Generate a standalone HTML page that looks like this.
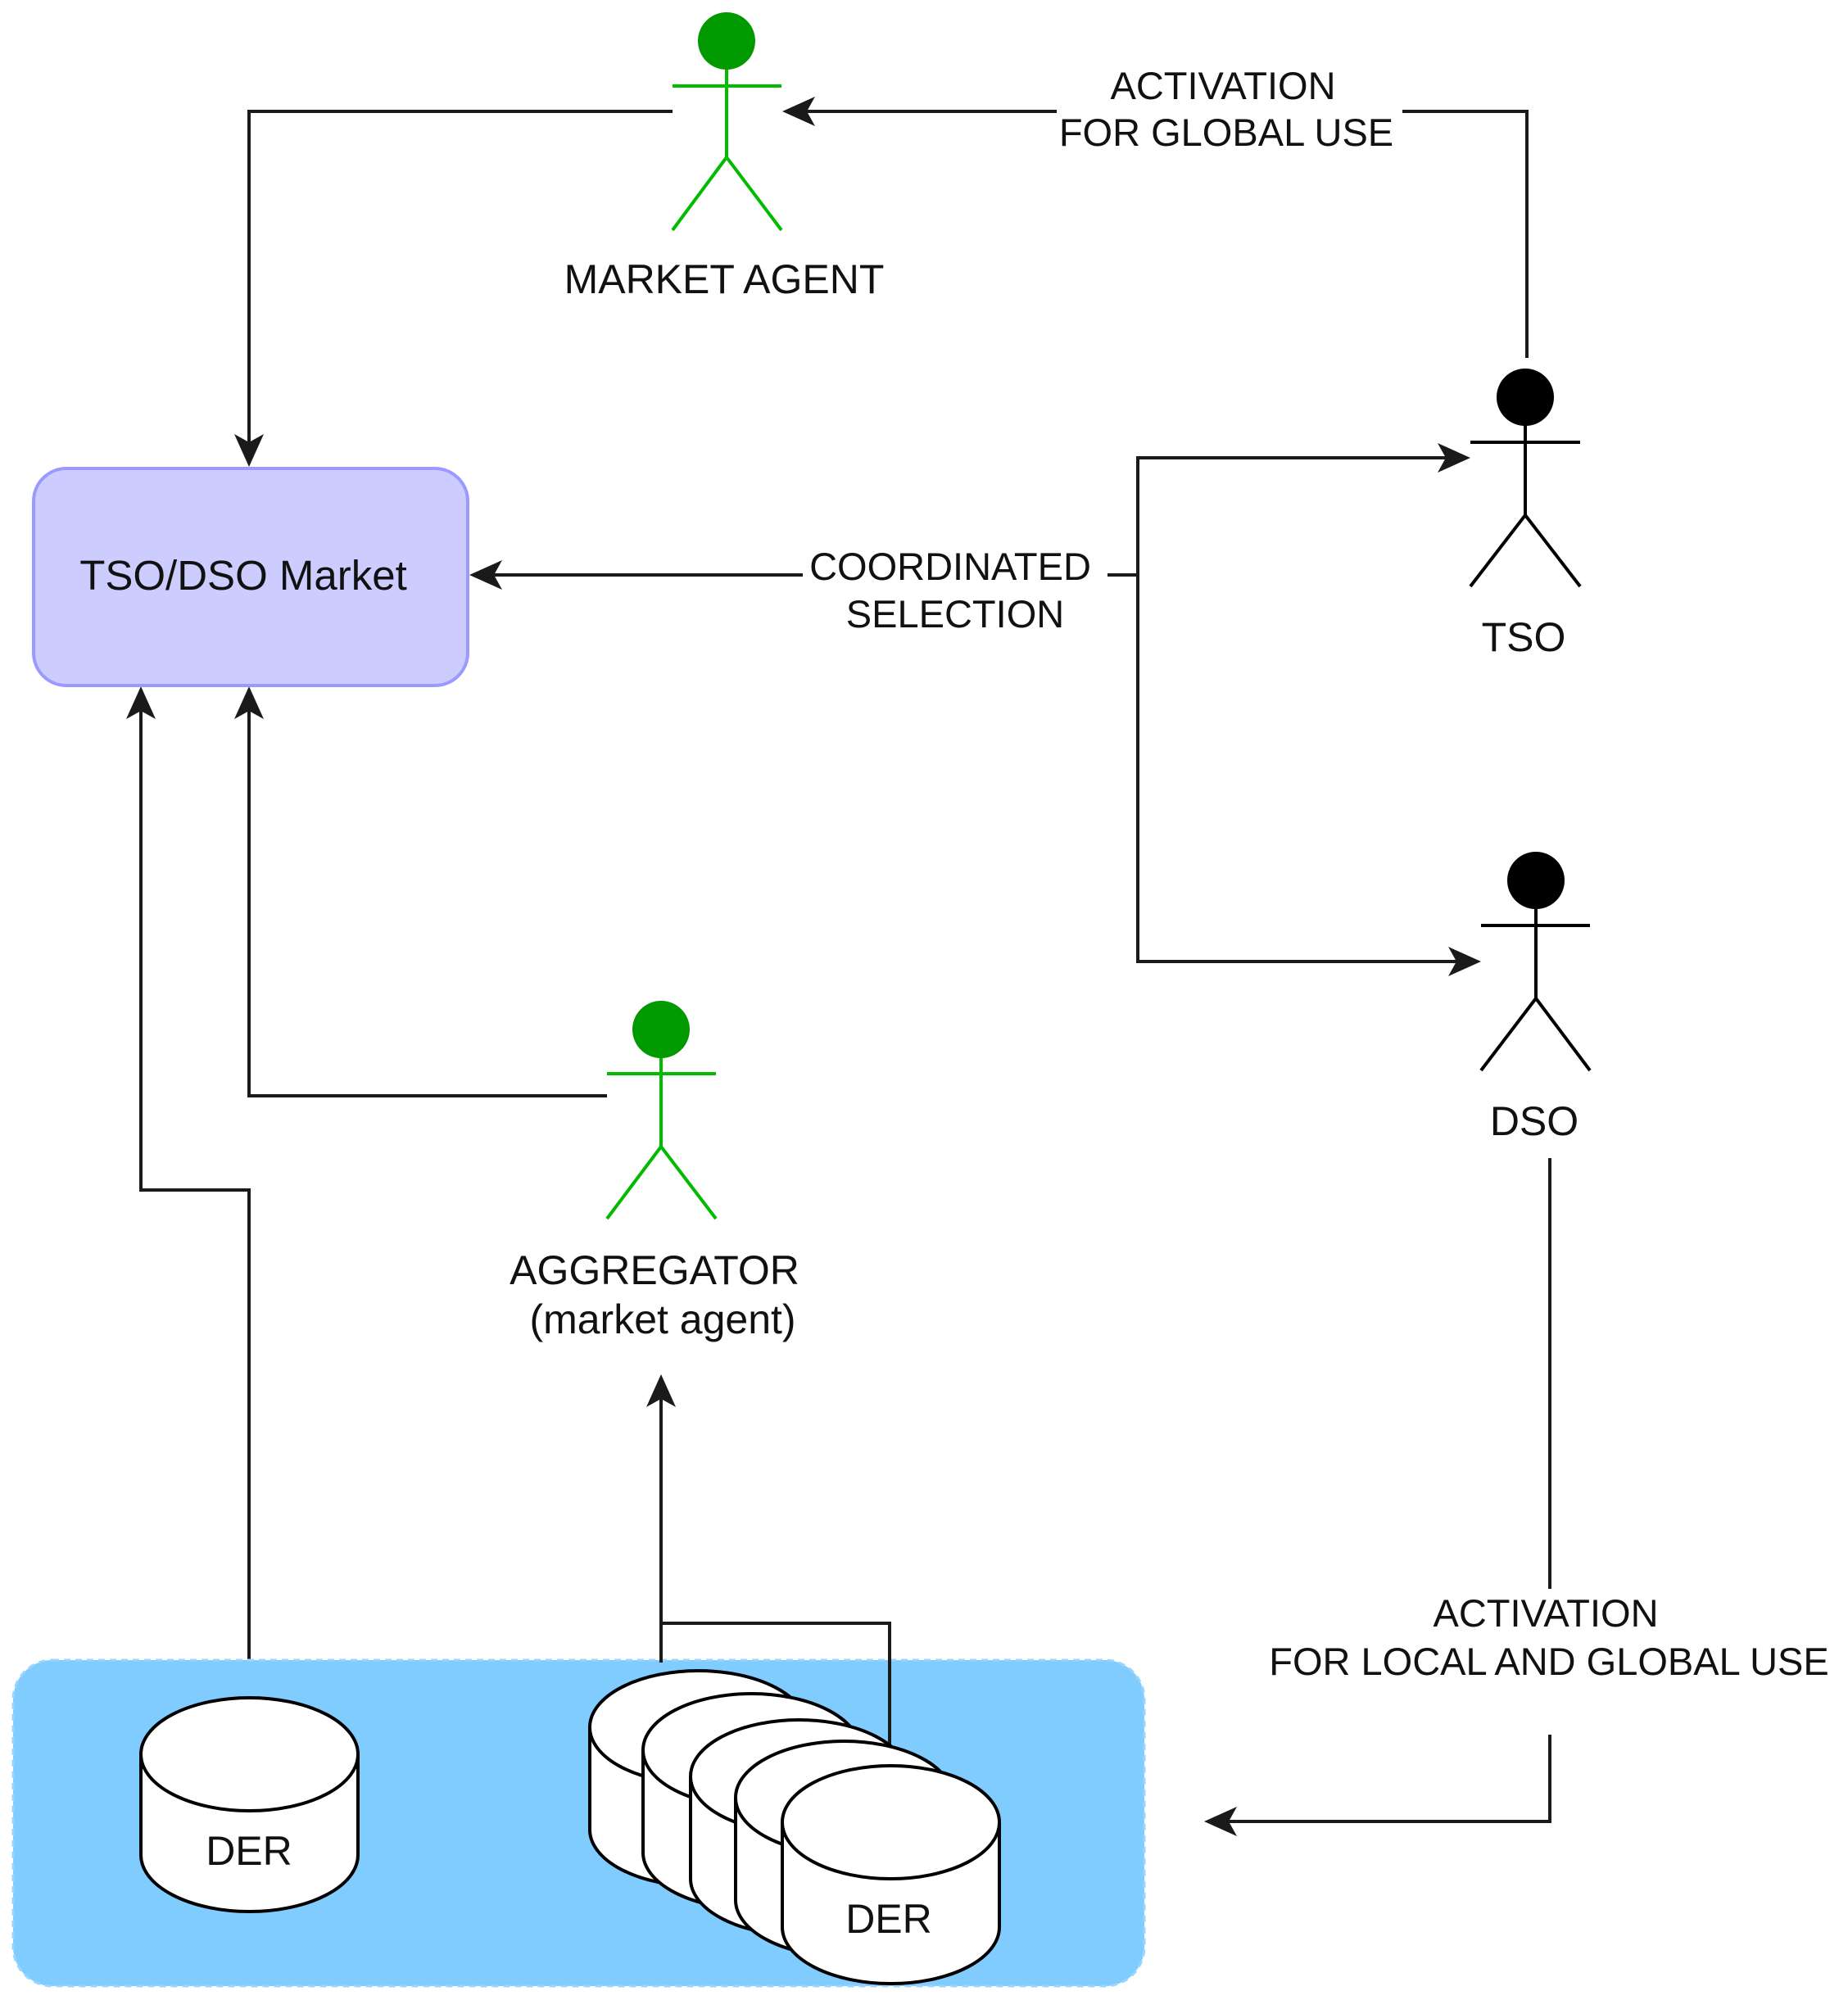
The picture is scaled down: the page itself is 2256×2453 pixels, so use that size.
<!DOCTYPE html>
<html><head><meta charset="utf-8"><style>
html,body{margin:0;padding:0;background:#fff;}
svg{display:block;}
text{font-family:"Liberation Sans",Arial,sans-serif;fill:#111;}
</style></head><body>
<svg width="2256" height="2453" viewBox="0 0 2256 2453" xmlns="http://www.w3.org/2000/svg">
<g fill="none" stroke="#1a1a1a" stroke-width="4">
<polyline points="821,136 304,136 304,560"/>
<polyline points="1864,437 1864,136 1712,136"/>
<line x1="1290" y1="136" x2="968" y2="136"/>
<line x1="980" y1="702" x2="585" y2="702"/>
<line x1="1352" y1="702" x2="1389" y2="702"/>
<polyline points="1785,559 1389,559 1389,1174 1798,1174"/>
<polyline points="741,1338 304,1338 304,850"/>
<polyline points="304,2073 304,1453 172,1453 172,850"/>
<line x1="1892" y1="1414" x2="1892" y2="1940"/>
<polyline points="1892,2118 1892,2224 1482,2224"/>
</g>
<g fill="#1a1a1a">
<path d="M304,570 l-18,-40 l18,10 l18,-10 z"/>
<path d="M955,136 l40,-18 l-10,18 l10,18 z"/>
<path d="M573,702 l40,-18 l-10,18 l10,18 z"/>
<path d="M1795,559 l-40,-18 l10,18 l-10,18 z"/>
<path d="M1808,1174 l-40,-18 l10,18 l-10,18 z"/>
<path d="M304,838 l-18,40 l18,-10 l18,10 z"/>
<path d="M172,838 l-18,40 l18,-10 l18,10 z"/>
<path d="M807,1678 l-18,40 l18,-10 l18,10 z"/>
<path d="M1470,2224 l40,-18 l-10,18 l10,18 z"/>
</g>
<rect x="41" y="572" width="530" height="265" rx="40" fill="#ccccff" stroke="#9999ff" stroke-width="4"/>
<text x="297" y="720" font-size="51" text-anchor="middle">TSO/DSO Market</text>
<text font-size="47" text-anchor="middle"><tspan x="1493" y="121">ACTIVATION</tspan><tspan x="1497" y="178">FOR GLOBAL USE</tspan></text>
<text font-size="47" text-anchor="middle"><tspan x="1160" y="708">COORDINATED</tspan><tspan x="1166" y="766">SELECTION</tspan></text>
<text font-size="47" text-anchor="middle"><tspan x="1887" y="1986">ACTIVATION</tspan><tspan x="1891" y="2045">FOR LOCAL AND GLOBAL USE</tspan></text>
<g stroke="#00bb00" stroke-width="4" fill="none">
<line x1="821" y1="105" x2="954" y2="105"/><line x1="887" y1="84" x2="887" y2="192"/><polyline points="821,281 887,192 954,281"/>
<line x1="741" y1="1311" x2="874" y2="1311"/><line x1="807" y1="1290" x2="807" y2="1400"/><polyline points="741,1488 807,1400 874,1488"/>
</g>
<circle cx="887" cy="50" r="35" fill="#009900"/>
<circle cx="807" cy="1257" r="35" fill="#009900"/>
<g stroke="#000" stroke-width="4" fill="none">
<line x1="1795" y1="540" x2="1929" y2="540"/><line x1="1862" y1="518" x2="1862" y2="629"/><polyline points="1795,716 1862,629 1929,716"/>
<line x1="1808" y1="1130" x2="1941" y2="1130"/><line x1="1875" y1="1108" x2="1875" y2="1219"/><polyline points="1808,1307 1875,1219 1941,1307"/>
</g>
<circle cx="1862" cy="485" r="35" fill="#000"/>
<circle cx="1875" cy="1075" r="35" fill="#000"/>
<text x="884" y="358" font-size="50" text-anchor="middle">MARKET AGENT</text>
<text x="1860" y="795" font-size="50" text-anchor="middle">TSO</text>
<text x="1873" y="1386" font-size="50" text-anchor="middle">DSO</text>
<text x="799" y="1568" font-size="50" text-anchor="middle">AGGREGATOR</text>
<text x="809" y="1628" font-size="50" text-anchor="middle">(market agent)</text>
<rect x="16" y="2027" width="1381" height="398" rx="48" fill="#80ccff" stroke="#99d6ff" stroke-width="3" stroke-dasharray="8 6"/>
<g fill="none" stroke="#1a1a1a" stroke-width="4">
<polyline points="807,2030 807,1690"/>
<polyline points="807,2030 807,1982 1086,1982 1086,2150"/>
</g>
<g stroke="#000" stroke-width="4" fill="#fff">
<path d="M172,2142 a132.5,69 0 0 1 265,0 v123 a132.5,69 0 0 1 -265,0 z"/>
<path d="M172,2142 a132.5,69 0 0 0 265,0" fill="none"/>
</g>
<text x="304" y="2277" font-size="50" text-anchor="middle">DER</text>
<g stroke="#000" stroke-width="4" fill="#fff">
<path d="M720,2109 a132.5,69 0 0 1 265,0 v125 a132.5,69 0 0 1 -265,0 z"/><path d="M720,2109 a132.5,69 0 0 0 265,0" fill="none"/>
<path d="M785,2137 a132.5,69 0 0 1 265,0 v125 a132.5,69 0 0 1 -265,0 z"/><path d="M785,2137 a132.5,69 0 0 0 265,0" fill="none"/>
<path d="M843,2169 a132.5,69 0 0 1 265,0 v125 a132.5,69 0 0 1 -265,0 z"/><path d="M843,2169 a132.5,69 0 0 0 265,0" fill="none"/>
<path d="M898,2195 a132.5,69 0 0 1 265,0 v125 a132.5,69 0 0 1 -265,0 z"/><path d="M898,2195 a132.5,69 0 0 0 265,0" fill="none"/>
<path d="M955,2225 a132.5,69 0 0 1 265,0 v128 a132.5,69 0 0 1 -265,0 z"/><path d="M955,2225 a132.5,69 0 0 0 265,0" fill="none"/>
</g>
<text x="1085" y="2360" font-size="50" text-anchor="middle">DER</text>
</svg>
</body></html>
